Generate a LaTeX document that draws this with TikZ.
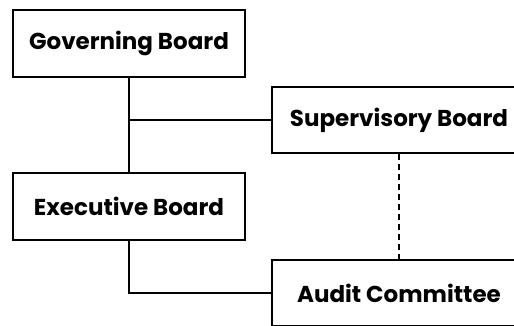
\documentclass[tikz,border=0pt]{standalone}
\usepackage{fontspec}
\setmainfont{Poppins}
\usepackage{tikz}
\usetikzlibrary{calc}

\begin{document}
\begin{tikzpicture}[
		x=1pt, y=-1pt,
		board/.style={
			draw,
			line width=2.6pt,
			minimum width=232pt,
			minimum height=67pt,
			font=\fontsize{23}{26}\selectfont\bfseries
			},
		wide/.style={
			board,
			minimum width=254pt,
			minimum height=66pt
			},
		link/.style={
			line width=2pt,
			color=black
			}
		]
		\useasboundingbox (0,0) rectangle (514,325);
		\clip (0,0) rectangle (514,325);

		\node[board] (gov) at (129,43.5) {Governing Board};
		\node[board] (exe) at (129,206.5) {Executive Board};
		\node[wide] (sup) at (399,120) {Supervisory Board};
		\node[wide] (aud) at (399,293) {Audit Committee};

		\draw[link] (gov) -- (exe);
		\coordinate (split) at (gov.south |- sup.west);
		\draw[link] (split) -- (sup);
		\draw[link] (exe.south) |- (aud.west);
		\draw[link, dashed, dash pattern=on 6pt off 4pt] (sup) -- (aud);
	\end{tikzpicture}
\end{document}
